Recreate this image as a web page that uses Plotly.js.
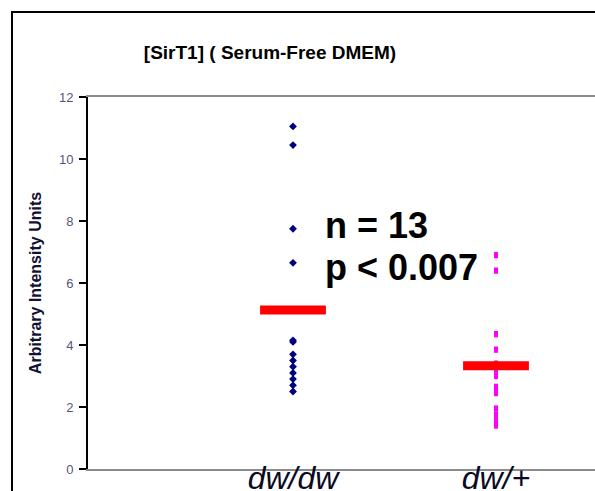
<!DOCTYPE html>
<html><head><meta charset="utf-8">
<script src="https://cdn.plot.ly/plotly-3.0.1.min.js"></script>
<style>body{margin:0;background:#fff}#c{width:595px;height:491px}</style>
</head><body><div id="c"></div>
<script>
const categories = ["dw/dw", "dw/+"];
const dwdwValues = [11.05, 10.45, 7.75, 6.65, 4.15, 4.1, 3.7, 3.5, 3.3, 3.1, 2.9, 2.7, 2.5];
const dwPlusValues = [6.9, 6.4, 4.35, 3.85, 3.4, 3.2, 3.0, 2.65, 2.45, 1.95, 1.75, 1.55, 1.4];
const means = [5.13, 3.33];
const yTicks = [0, 2, 4, 6, 8, 10, 12];
const titleText = "[SirT1] ( Serum-Free DMEM)";
const yTitle = "Arbitrary Intensity Units";
const notes = ["n = 13", "p < 0.007"];
const noteY = [7.84, 6.5];

const traces = [
  {x: dwdwValues.map(() => categories[0]), y: dwdwValues, type: "scatter", mode: "markers",
   marker: {symbol: "diamond", size: 6, color: "#00007f"}},
  {x: dwPlusValues.map(() => categories[1]), y: dwPlusValues, type: "scatter", mode: "markers",
   marker: {symbol: "line-ns", size: 4.5, line: {color: "#ff00ff", width: 4}}},
  {x: categories, y: means, type: "scatter", mode: "markers",
   marker: {symbol: "line-ew", size: 47, line: {color: "#ff0000", width: 9}}}
];

const layout = {
  width: 595, height: 491,
  margin: {l: 88, r: 0, t: 97, b: 22},
  paper_bgcolor: "#fff", plot_bgcolor: "#fff",
  showlegend: false, hovermode: false,
  title: {text: titleText, x: 270/595, xanchor: "center", y: 1 - 52/491, yanchor: "middle",
          font: {family: "Liberation Sans, Arial", size: 19, color: "#000", weight: "bold"}},
  xaxis: {type: "category", range: [-1.0099, 1.4877], showgrid: false, zeroline: false,
          showline: true, linecolor: "#8c8c8c", linewidth: 2, mirror: true, ticks: "",
          tickfont: {family: "Liberation Sans, Arial", size: 32, color: "#0a0a22", style: "italic"},
          ticklabelstandoff: -20},
  yaxis: {range: [0, 12], tickvals: yTicks, showgrid: false, zeroline: false,
          showline: true, linecolor: "#000", linewidth: 2, ticks: "outside", ticklen: 7,
          tickwidth: 1.5, tickcolor: "#000", ticklabelstandoff: 3,
          tickfont: {family: "Liberation Sans, Arial", size: 13, color: "#55557a"},
          title: {text: yTitle, standoff: 13,
                  font: {family: "Liberation Sans, Arial", size: 16, color: "#111133", weight: "bold"}}},
  annotations: notes.map((t, i) => ({text: t, xref: "paper", yref: "y", x: (323-88)/507, y: noteY[i],
     xanchor: "left", yanchor: "middle", showarrow: false,
     font: {family: "Liberation Sans, Arial", size: 36, color: "#000", weight: "bold"}})),
  shapes: [{type: "rect", xref: "paper", yref: "paper", x0: (12-88)/507, x1: 1.2, y0: -0.3, y1: 1 + (97-12)/372,
            line: {color: "#000", width: 2}, fillcolor: "rgba(0,0,0,0)"}]
};
Plotly.newPlot("c", traces, layout, {displayModeBar: false, staticPlot: true});
</script></body></html>
